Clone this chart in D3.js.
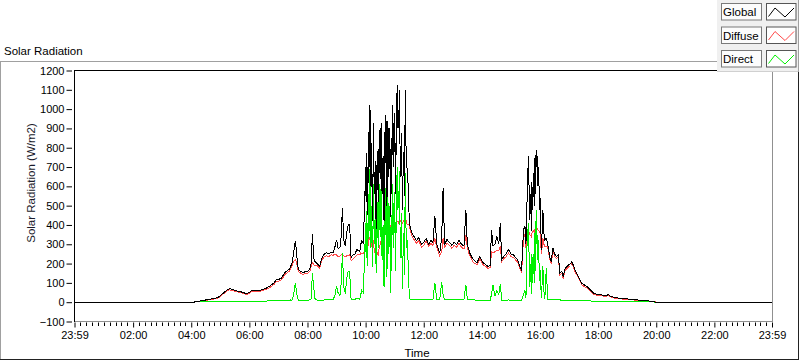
<!DOCTYPE html>
<html><head><meta charset="utf-8">
<script src="https://cdn.jsdelivr.net/npm/d3@7"></script>
<style>
body{margin:0;background:#fff;}
svg{display:block;font-family:"Liberation Sans",Arial,sans-serif;}
</style>
</head><body>
<svg id="c" width="800" height="361"></svg>
<script>
// ---- DATA (minutes since midnight; -1 = 23:59 of previous day) ----
const timeMin = [-1,246,
247,255,262,271,278,285,292,299,306,313,319,325,330,335,340,347,354,360,364,370,376,381,388,395,400,406,411,416,421,426,430,433,437,443,446,
448,451,455,458,461,466,471,476,481,485,488,490,493,495,500,505,510,515,519,524,529,533,537,540,543,547,550,552,555,558,561,564,567,570,574,578,582,588,590,592,595,
598,599,600,601,602,603,604,605,606,607,
608,609,610,611,612,613,614,615,616,617,
618,619,620,621,622,623,624,625,626,627,
628,629,630,631,632,633,634,635,636,637,
638,639,640,641,642,643,644,645,646,647,
648,649,650,651,652,653,654,655,656,657,
658,659,660,661,662,663,664,665,666,667,
668,669,670,671,672,673,674,675,676,677,
678,679,680,681,682,683,684,685,686,687,
688,689,690,691,692,
695,700,705,710,715,720,725,730,735,739,743,747,753,757,760,763,768,773,778,783,788,793,798,803,807,810,815,820,825,830,836,842,848,853,857,860,863,867,871,875,878,881,886,890,895,900,905,910,914,918,922,
926,929,931,933,936,939,941,942,943,944,945,946,947,948,949,950,951,952,953,954,955,956,957,958,959,960,
963,966,968,970,973,976,980,983,987,990,994,998,1001,1005,1008,1012,1016,1019,1023,1026,1029,1032,1036,1039,1043,1046,1050,1054,1057,1062,1066,1070,1077,1084,1091,1098,1101,1105,1112,1125,1140,1155,1167,1180,1195,1199,
1439];

const globalW = [0,0,
3,5,8,12,15,18,22,30,47,61,70,66,61,58,56,50,44,50,61,63,60,61,66,73,80,90,100,117,118,125,140,154,160,172,190,
200,250,318,240,170,160,151,160,160,175,205,355,230,211,200,185,230,250,256,250,258,255,290,324,280,281,350,488,320,290,360,401,401,230,246,250,272,263,300,315,307,
496,600,700,520,773,690,450,620,880,780,
1023,700,997,600,826,650,420,560,930,700,
560,640,730,480,380,620,781,680,520,600,
894,750,640,780,928,700,560,640,755,600,
420,700,880,720,971,760,500,720,937,800,
650,760,900,620,440,700,850,760,1023,860,
700,820,980,760,560,820,1084,900,1127,960,
900,1000,1101,820,650,760,876,680,480,620,
780,700,550,820,1101,880,700,760,620,640,
600,520,427,410,390,
360,340,320,335,300,310,330,300,320,310,445,300,255,330,593,300,324,310,295,310,300,320,300,290,479,300,255,230,215,205,237,205,195,185,190,376,290,300,341,300,410,220,240,250,272,250,246,230,220,185,165,
376,393,300,496,755,427,560,370,620,550,480,669,620,500,700,760,560,790,700,755,600,652,700,600,480,548,
272,479,360,324,330,300,237,211,281,250,237,246,151,160,134,177,185,194,200,211,190,168,150,134,115,99,92,85,82,68,58,48,42,39,36,35,40,32,25,20,17,13,10,7,4,0,
0];

const diffuseW = [null,0,
2,4,6,10,12,15,19,26,42,56,64,61,56,53,51,45,40,46,56,58,55,56,61,67,73,83,92,108,110,116,130,143,150,162,178,
185,210,220,200,160,150,142,150,150,160,190,205,195,190,190,175,220,237,240,237,245,243,250,245,235,240,245,250,240,235,240,240,245,215,225,232,245,245,255,250,250,
265,280,290,295,300,290,260,290,320,325,
330,335,340,320,330,300,240,270,320,290,
260,255,250,240,230,245,260,250,240,260,
280,290,300,310,320,330,340,345,350,345,
340,355,370,375,380,375,370,380,390,395,
400,400,400,395,390,395,400,405,410,415,
420,415,410,405,400,410,420,420,420,415,
410,420,425,422,420,420,420,415,410,415,
420,415,410,420,430,425,420,410,400,400,
400,400,400,390,375,
345,325,305,320,285,295,315,290,305,295,330,285,240,260,330,285,305,295,280,295,285,305,285,275,350,280,240,215,200,195,225,195,185,175,180,260,255,262,270,265,290,210,228,235,255,235,232,218,208,175,155,
330,350,280,360,370,350,345,340,355,360,365,370,370,360,370,380,385,390,388,385,380,375,372,370,365,360,
250,330,300,290,290,285,225,200,265,238,225,234,140,150,124,167,175,184,190,201,181,159,141,126,107,91,84,78,75,61,52,42,37,34,32,31,36,28,22,17,15,11,8,6,3,1,
null];

const directW = [null,0,
1,2,2,3,3,3,3,4,5,5,6,5,5,5,5,5,4,4,5,5,5,5,5,6,7,7,8,9,8,9,10,11,10,10,12,
10,35,100,40,10,8,8,8,10,12,20,151,80,20,10,10,10,12,12,12,12,12,40,82,50,35,110,255,80,45,120,160,160,15,15,15,20,15,40,60,50,
230,320,410,230,470,400,190,330,560,450,
690,370,660,280,500,350,180,300,610,420,
300,390,480,240,150,370,520,420,280,340,
610,460,340,470,610,370,220,300,400,250,
80,350,510,350,590,380,130,340,550,400,
250,360,500,220,50,300,450,350,610,440,
280,400,570,350,160,410,660,480,700,540,
490,580,680,400,230,340,460,260,70,200,
360,290,140,400,670,450,280,350,300,240,
200,120,40,25,15,
15,15,14,14,13,13,13,12,12,12,100,15,12,102,40,12,12,12,12,12,12,12,12,12,90,15,12,12,12,10,10,10,10,10,10,40,90,30,60,40,95,10,10,10,12,10,10,10,10,8,8,
40,60,20,281,410,80,200,40,250,220,100,250,240,100,320,376,160,479,300,350,220,260,320,200,110,168,
20,185,60,15,178,15,12,12,12,12,12,12,12,10,10,10,10,10,10,10,9,9,9,8,8,8,8,7,7,7,6,6,5,5,4,4,4,4,3,3,2,2,2,1,1,0,
null];

const seriesNames = ["Global","Diffuse","Direct"];
const seriesColors = ["#000000","#ff4848","#00f000"];
const yTicks = [-100,0,100,200,300,400,500,600,700,800,900,1000,1100,1200];
const xTickMinutes = [-1,120,240,360,480,600,720,840,960,1080,1200,1320,1439];
const xTickLabels = ["23:59","02:00","04:00","06:00","08:00","10:00","12:00","14:00","16:00","18:00","20:00","22:00","23:59"];
const minorPerMajor = 10;

// ---- DRAW ----
const svg = d3.select("#c");
const x = d3.scaleLinear().domain([-1,1439]).range([74.5,772]);
const y = d3.scaleLinear().domain([-100,1200]).range([321.5,70.5]);

// outer frame
svg.append("line").attr("x1",0).attr("x2",717).attr("y1",61.5).attr("y2",61.5).attr("stroke","#a0a0a0");
svg.append("line").attr("x1",0.5).attr("x2",0.5).attr("y1",61).attr("y2",360).attr("stroke","#a0a0a0");
svg.append("line").attr("x1",0).attr("x2",799).attr("y1",359.5).attr("y2",359.5).attr("stroke","#222");
svg.append("line").attr("x1",798.5).attr("x2",798.5).attr("y1",72).attr("y2",360).attr("stroke","#222");

svg.append("text").attr("x",4).attr("y",55).attr("font-size","11.5px").attr("fill","#000").text("Solar Radiation");

// plot background
svg.append("rect").attr("x",74.5).attr("y",70.5).attr("width",698).attr("height",251).attr("fill","#fff");

const n = Math.min(timeMin.length, globalW.length, diffuseW.length, directW.length);
const rows = d3.range(n).map(i => ({t: timeMin[i], g: globalW[i], d: diffuseW[i], b: directW[i]}));

svg.append("clipPath").attr("id","pc").append("rect")
  .attr("x",74.5).attr("y",70.5).attr("width",698).attr("height",251);
const plot = svg.append("g").attr("clip-path","url(#pc)");
const keys = ["g","d","b"];
const order = [1,2,0];
order.forEach(si => {
  const k = keys[si];
  const ln = d3.line().defined(r => r[k] != null).x(r => x(r.t)).y(r => y(r[k]));
  plot.append("path").attr("d", ln(rows)).attr("fill","none")
    .attr("stroke", seriesColors[si]).attr("stroke-width",1)
    .attr("shape-rendering","crispEdges");
});

// plot frame
svg.append("line").attr("x1",74).attr("x2",772.5).attr("y1",70.5).attr("y2",70.5).attr("stroke","#000");
svg.append("line").attr("x1",74.5).attr("x2",74.5).attr("y1",70).attr("y2",322).attr("stroke","#000");
svg.append("line").attr("x1",772.5).attr("x2",772.5).attr("y1",70).attr("y2",322).attr("stroke","#909090");
svg.append("line").attr("x1",75).attr("x2",773).attr("y1",321.5).attr("y2",321.5).attr("stroke","#909090");

// y axis
const ya = svg.append("g").attr("transform","translate(72,0)")
  .call(d3.axisLeft(y).tickValues(yTicks).tickSize(5.5).tickPadding(2).tickFormat(d3.format("d")));
ya.select(".domain").remove();
ya.selectAll("text").attr("font-size","11px").attr("font-family","Liberation Sans, Arial, sans-serif").attr("fill","#000");
ya.selectAll("line").attr("stroke","#000");

// x axis
const xa = svg.append("g").attr("transform","translate(0,322.5)")
  .call(d3.axisBottom(x).tickValues(xTickMinutes).tickSize(5).tickPadding(3.5).tickFormat((d,i)=>xTickLabels[i]));
xa.select(".domain").remove();
xa.selectAll("text").attr("font-size","11px").attr("font-family","Liberation Sans, Arial, sans-serif").attr("fill","#000");
xa.selectAll("line").attr("stroke","#000");
// minor ticks
const minor = [];
for (let i=0;i<xTickMinutes.length-1;i++){
  const a = xTickMinutes[i], b = xTickMinutes[i+1];
  for (let j=1;j<minorPerMajor;j++) minor.push(a + (b-a)*j/minorPerMajor);
}
svg.append("g").selectAll("line").data(minor).join("line")
  .attr("x1",d=>Math.round(x(d))+0.5).attr("x2",d=>Math.round(x(d))+0.5)
  .attr("y1",322.5).attr("y2",326).attr("stroke","#000");

svg.append("text").attr("x",31).attr("y",183).attr("transform","rotate(-90,31,183)")
  .attr("text-anchor","middle").attr("dominant-baseline","central")
  .attr("font-size","11.5px").attr("fill","#1a1a2a").text("Solar Radiation (W/m2)");
svg.append("text").attr("x",417).attr("y",357).attr("text-anchor","middle")
  .attr("font-size","11.5px").attr("fill","#000").text("Time");

// legend
const lg = svg.append("g");
lg.append("rect").attr("x",717).attr("y",0).attr("width",82).attr("height",72).attr("fill","#f0f0f0");
lg.append("line").attr("x1",717).attr("x2",799).attr("y1",71.5).attr("y2",71.5).attr("stroke","#d0d0d0");
lg.append("line").attr("x1",798.5).attr("x2",798.5).attr("y1",0).attr("y2",72).attr("stroke","#a0a0a0");
seriesNames.forEach((nm,i) => {
  const top = 3.5 + i*23.5;
  lg.append("rect").attr("x",721.5).attr("y",top).attr("width",40).attr("height",16.5)
    .attr("fill","#fcfcfc").attr("stroke","#7a7a7a");
  lg.append("text").attr("x",723).attr("y",top+12.5).attr("font-size","11.5px").attr("fill","#000").text(nm);
  lg.append("rect").attr("x",766.5).attr("y",top).attr("width",29.5).attr("height",16.5)
    .attr("fill","#fff").attr("stroke","#555");
  const zz = [[768.5,top+13],[775,top+4.5],[785,top+13.5],[794,top+4.5]];
  lg.append("path").attr("d",d3.line()(zz)).attr("fill","none").attr("stroke",seriesColors[i]).attr("stroke-width",1);
});
</script>
</body></html>
